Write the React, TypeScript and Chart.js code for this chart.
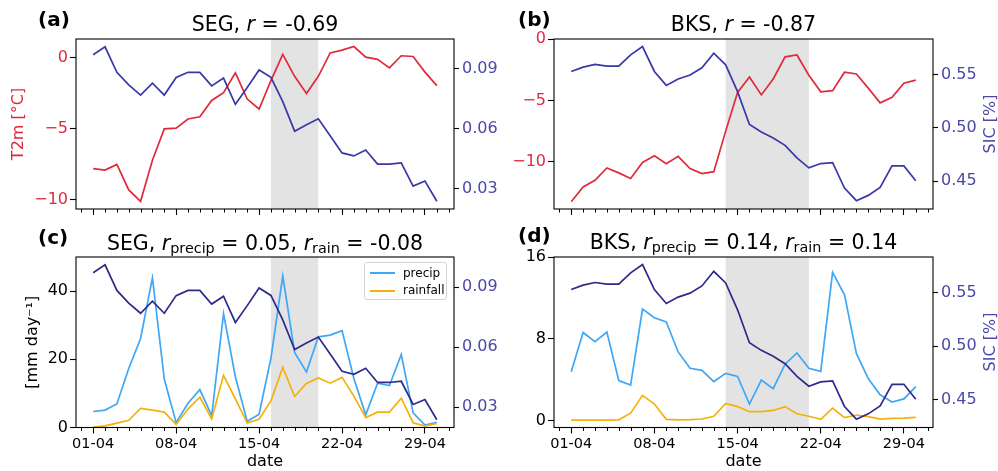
import React, { useEffect, useRef } from 'react';
import { Chart, registerables } from 'chart.js';

Chart.register(...registerables);
Chart.defaults.font.family = "'DejaVu Sans', sans-serif";

// ---- data ----
const dates = [
  '01-04', '02-04', '03-04', '04-04', '05-04', '06-04', '07-04', '08-04', '09-04', '10-04',
  '11-04', '12-04', '13-04', '14-04', '15-04', '16-04', '17-04', '18-04', '19-04', '20-04',
  '21-04', '22-04', '23-04', '24-04', '25-04', '26-04', '27-04', '28-04', '29-04', '30-04',
];
const majorTicks = [0, 7, 14, 21, 28];

const segT2m = [
  -7.8, -7.9, -7.5, -9.3, -10.1, -7.2, -5.0, -4.95, -4.3, -4.15,
  -3.0, -2.45, -1.05, -2.9, -3.6, -1.6, 0.25, -1.3, -2.5, -1.3,
  0.35, 0.55, 0.8, 0.05, -0.1, -0.7, 0.15, 0.1, -1.0, -1.95,
];
const segSIC = [
  0.0971, 0.1011, 0.0883, 0.082, 0.0769, 0.0829, 0.0769, 0.0857, 0.0883, 0.0883,
  0.0815, 0.0854, 0.0723, 0.0807, 0.0895, 0.0858, 0.0736, 0.0588, 0.062, 0.065,
  0.0565, 0.0479, 0.0464, 0.0494, 0.0423, 0.0423, 0.0429, 0.0313, 0.0338, 0.0237,
];
const segPrecip = [
  4.7, 5.1, 6.9, 17.3, 26.1, 43.9, 14.2, 1.4, 7.1, 11.1,
  3.5, 33.4, 14.9, 1.8, 3.9, 20.3, 44.4, 22.0, 16.3, 26.6,
  27.1, 28.4, 14.4, 3.7, 13.0, 12.3, 21.4, 4.3, 0.7, 1.5,
];
const segRain = [
  0.15, 0.5, 1.3, 2.1, 5.6, 5.1, 4.5, 0.9, 5.4, 8.9,
  2.5, 15.3, 8.4, 1.3, 2.4, 7.8, 17.6, 9.1, 12.9, 14.5,
  13.0, 14.7, 9.2, 2.9, 4.5, 4.5, 8.6, 1.4, 0.4, 1.2,
];

const bksT2m = [
  -13.25, -12.05, -11.5, -10.5, -10.9, -11.35, -10.05, -9.5, -10.15, -9.55,
  -10.55, -10.95, -10.8, -7.5, -4.35, -3.1, -4.55, -3.25, -1.45, -1.3,
  -2.95, -4.3, -4.2, -2.7, -2.85, -4.0, -5.2, -4.75, -3.6, -3.35,
];
const bksSIC = [
  0.5531, 0.5572, 0.5597, 0.5581, 0.5581, 0.5687, 0.5765, 0.5531, 0.54, 0.546,
  0.5497, 0.5565, 0.5702, 0.5593, 0.5341, 0.5033, 0.4961, 0.4905, 0.4836, 0.4718,
  0.4625, 0.4665, 0.4674, 0.4435, 0.4316, 0.4366, 0.4441, 0.4643, 0.4643, 0.4503,
];
const bksPrecip = [
  4.75, 8.6, 7.7, 8.65, 3.9, 3.45, 10.9, 10.05, 9.65, 6.7,
  5.1, 4.9, 3.8, 4.6, 4.3, 1.6, 3.95, 3.1, 5.5, 6.6,
  5.1, 4.8, 14.5, 12.3, 6.55, 4.1, 2.5, 1.8, 2.1, 3.3,
];
const bksRain = [
  0.03, 0.03, 0.03, 0.03, 0.05, 0.7, 2.45, 1.6, 0.1, 0.05,
  0.07, 0.13, 0.4, 1.65, 1.35, 0.85, 0.85, 0.97, 1.35, 0.65,
  0.4, 0.1, 1.2, 0.26, 0.52, 0.36, 0.13, 0.2, 0.22, 0.29,
];

// event windows (day index)
const segEvent = [15, 19];
const bksEvent = [13, 20];

// ---- styles ----
const FONT = "'DejaVu Sans', sans-serif";
const RED = '#e02a3c';
const SIC_TOP = '#3a37a6';
const SIC_BOTTOM = '#2e2a8c';
const SIC_TICK = '#4b48a8';
const PRECIP = '#3fa7f5';
const RAIN = '#f4b10c';
const SHADE = '#e3e3e3';

const shadePlugin = {
  id: 'shade',
  beforeDatasetsDraw(chart: any, _args: any, opts: any) {
    const { ctx, chartArea } = chart;
    const x = chart.scales.x;
    const x0 = x.getPixelForValue(opts.from);
    const x1 = x.getPixelForValue(opts.to);
    ctx.save();
    ctx.fillStyle = SHADE;
    ctx.fillRect(x0, chartArea.top, x1 - x0, chartArea.bottom - chartArea.top);
    ctx.restore();
  },
};

// matplotlib-like frame + daily minor ticks
const framePlugin = {
  id: 'frame',
  afterDatasetsDraw(chart: any) {
    const { ctx, chartArea } = chart;
    const x = chart.scales.x;
    ctx.save();
    ctx.strokeStyle = '#000';
    ctx.lineWidth = 1.1;
    ctx.strokeRect(chartArea.left, chartArea.top, chartArea.right - chartArea.left, chartArea.bottom - chartArea.top);
    ctx.lineWidth = 1;
    ctx.beginPath();
    for (let d = Math.ceil(x.min); d <= Math.floor(x.max); d++) {
      if (majorTicks.includes(d)) continue;
      const px = Math.round(x.getPixelForValue(d)) + 0.5;
      ctx.moveTo(px, chartArea.bottom);
      ctx.lineTo(px, chartArea.bottom + 3.5);
    }
    ctx.stroke();
    ctx.restore();
  },
};

const grid = (len: number) => ({
  drawOnChartArea: false,
  drawTicks: true,
  tickLength: len,
  tickColor: '#000',
  tickWidth: 1.1,
});

function yAxis(o: any) {
  return {
    type: 'linear',
    position: o.position,
    min: o.min,
    max: o.max,
    afterBuildTicks: (s: any) => {
      s.ticks = o.ticks.map((value: number) => ({ value }));
    },
    afterFit: (s: any) => {
      s.width = o.width;
    },
    ticks: {
      color: o.color,
      font: { size: 16, family: FONT },
      padding: o.position === 'left' ? 2 : 3,
      callback: o.fmt,
    },
    grid: grid(o.position === 'left' ? 6 : 5),
    border: { display: false },
    title: o.title
      ? {
          display: true,
          text: o.title,
          color: o.titleColor,
          font: { size: 16, family: FONT },
          padding: { top: o.titlePad, bottom: 0 },
        }
      : { display: false },
  };
}

const minusFmt = (v: any) => (v < 0 ? '\u2212' + Math.abs(v) : String(v));
const fix2 = (v: any) => Number(v).toFixed(2);

function buildConfig(p: any): any {
  return {
    type: 'line',
    data: {
      datasets: p.lines.map((l: any) => ({
        data: l.values.map((y: number, i: number) => ({ x: i, y })),
        yAxisID: l.axis,
        borderColor: l.color,
        borderWidth: 1.7,
        pointRadius: 0,
        tension: 0,
        fill: false,
      })),
    },
    options: {
      animation: false,
      responsive: false,
      events: [],
      layout: { padding: { top: p.padTop, left: 0, right: 0, bottom: 0 }, autoPadding: false },
      plugins: {
        legend: { display: false },
        tooltip: { enabled: false },
        shade: { from: p.shade[0], to: p.shade[1] },
      },
      scales: {
        x: {
          type: 'linear',
          min: -1.45,
          max: 30.45,
          afterBuildTicks: (s: any) => {
            s.ticks = majorTicks.map((value) => ({ value }));
          },
          afterFit: (s: any) => {
            s.height = p.xHeight;
          },
          ticks: {
            display: p.showX,
            color: '#000',
            font: { size: 14.5, family: FONT },
            padding: 2,
            maxRotation: 0,
            autoSkip: false,
            callback: (v: any) => dates[v],
          },
          grid: grid(6),
          border: { display: false },
          title: {
            display: p.showX,
            text: 'date',
            color: '#000',
            font: { size: 16, family: FONT },
            padding: { top: 0, bottom: 0 },
          },
        },
        yL: yAxis(p.yL),
        yR: yAxis(p.yR),
      },
    },
    plugins: [shadePlugin, framePlugin],
  };
}

const panels: any[] = [
  {
    key: 'a', left: 0, top: 0, width: 499, height: 235, padTop: 39, xHeight: 26, showX: false,
    shade: segEvent,
    yL: { position: 'left', width: 76, min: -10.64, max: 1.33, ticks: [-10, -5, 0], fmt: minusFmt, color: RED, title: 'T2m [°C]', titleColor: RED, titlePad: 9.4 },
    yR: { position: 'right', width: 45, min: 0.0198, max: 0.105, ticks: [0.03, 0.06, 0.09], fmt: fix2, color: SIC_TICK },
    lines: [
      { values: segSIC, axis: 'yR', color: SIC_TOP },
      { values: segT2m, axis: 'yL', color: RED },
    ],
  },
  {
    key: 'b', left: 499, top: 0, width: 499, height: 235, padTop: 39, xHeight: 26, showX: false,
    shade: bksEvent,
    yL: { position: 'left', width: 55, min: -13.84, max: 0, ticks: [-10, -5, 0], fmt: minusFmt, color: RED },
    yR: { position: 'right', width: 65, min: 0.4238, max: 0.5836, ticks: [0.45, 0.5, 0.55], fmt: fix2, color: SIC_TICK },
    lines: [
      { values: bksSIC, axis: 'yR', color: SIC_TOP },
      { values: bksT2m, axis: 'yL', color: RED },
    ],
  },
  {
    key: 'c', left: 0, top: 235, width: 499, height: 236, padTop: 22, xHeight: 43.5, showX: true,
    shade: segEvent,
    yL: { position: 'left', width: 76, min: 0, max: 50, ticks: [0, 20, 40], fmt: minusFmt, color: '#000', title: '[mm day\u207B\u00B9]', titleColor: '#000', titlePad: 23.4 },
    yR: { position: 'right', width: 45, min: 0.0198, max: 0.105, ticks: [0.03, 0.06, 0.09], fmt: fix2, color: SIC_TICK },
    lines: [
      { values: segSIC, axis: 'yR', color: SIC_BOTTOM },
      { values: segRain, axis: 'yL', color: RAIN },
      { values: segPrecip, axis: 'yL', color: PRECIP },
    ],
  },
  {
    key: 'd', left: 499, top: 235, width: 499, height: 236, padTop: 22, xHeight: 43.5, showX: true,
    shade: bksEvent,
    yL: { position: 'left', width: 55, min: -0.7, max: 16, ticks: [0, 8, 16], fmt: minusFmt, color: '#000' },
    yR: { position: 'right', width: 65, min: 0.4238, max: 0.5836, ticks: [0.45, 0.5, 0.55], fmt: fix2, color: SIC_TICK },
    lines: [
      { values: bksSIC, axis: 'yR', color: SIC_BOTTOM },
      { values: bksRain, axis: 'yL', color: RAIN },
      { values: bksPrecip, axis: 'yL', color: PRECIP },
    ],
  },
];

function Panel({ spec }: { spec: any }) {
  const ref = useRef<HTMLCanvasElement>(null);
  useEffect(() => {
    const chart = new Chart(ref.current!, buildConfig(spec));
    return () => chart.destroy();
  }, [spec]);
  return (
    <canvas
      ref={ref}
      width={spec.width}
      height={spec.height}
      style={{ position: 'absolute', left: spec.left, top: spec.top, width: spec.width, height: spec.height }}
    />
  );
}

const abs = (left: number, top: number, extra: any = {}) => ({
  position: 'absolute' as const,
  left,
  top,
  whiteSpace: 'nowrap' as const,
  ...extra,
});

const titleStyle = (cx: number, top: number) =>
  abs(cx, top, { transform: 'translateX(-50%)', fontSize: 20.5, lineHeight: '20px' });
const labelStyle = (left: number, top: number) => abs(left, top, { fontSize: 20, lineHeight: '20px', fontWeight: 'bold' });
const subStyle = { fontSize: '0.7em', verticalAlign: '-0.22em', lineHeight: 0 };
const sicTitle = (cx: number, cy: number) =>
  abs(cx, cy, { transform: 'translate(-50%, -50%) rotate(-90deg)', fontSize: 16, lineHeight: '16px', color: SIC_TICK });

export default function App() {
  return (
    <div style={{ position: 'absolute', left: 0, top: 0, width: 998, height: 471, background: '#fff', fontFamily: FONT, color: '#000', overflow: 'hidden' }}>
      {panels.map((p) => (
        <Panel key={p.key} spec={p} />
      ))}

      <div style={labelStyle(38, 9)}>(a)</div>
      <div style={labelStyle(518, 8.6)}>(b)</div>
      <div style={labelStyle(38, 226.6)}>(c)</div>
      <div style={labelStyle(518, 225)}>(d)</div>

      <div style={titleStyle(265, 13.6)}>
        SEG, <i>r</i> = -0.69
      </div>
      <div style={titleStyle(743.5, 13.6)}>
        BKS, <i>r</i> = -0.87
      </div>
      <div style={titleStyle(265, 232.9)}>
        SEG, <i>r</i>
        <sub style={subStyle}>precip</sub> = 0.05, <i>r</i>
        <sub style={subStyle}>rain</sub> = -0.08
      </div>
      <div style={titleStyle(743.5, 231.9)}>
        BKS, <i>r</i>
        <sub style={subStyle}>precip</sub> = 0.14, <i>r</i>
        <sub style={subStyle}>rain</sub> = 0.14
      </div>

      <div style={sicTitle(990, 124)}>SIC [%]</div>
      <div style={sicTitle(990, 342)}>SIC [%]</div>

      <div
        style={abs(364, 262, {
          width: 83,
          height: 38,
          boxSizing: 'border-box',
          border: '1px solid #d4d4d4',
          borderRadius: 3,
          background: 'rgba(255,255,255,0.85)',
          fontSize: 12,
        })}
      >
        {[
          { label: 'precip', color: PRECIP, y: 9 },
          { label: 'rainfall', color: RAIN, y: 26.5 },
        ].map((it) => (
          <React.Fragment key={it.label}>
            <div style={abs(5, it.y, { width: 25, height: 2, background: it.color })} />
            <div style={abs(38, it.y - 7.5, { lineHeight: '16px' })}>{it.label}</div>
          </React.Fragment>
        ))}
      </div>
    </div>
  );
}
